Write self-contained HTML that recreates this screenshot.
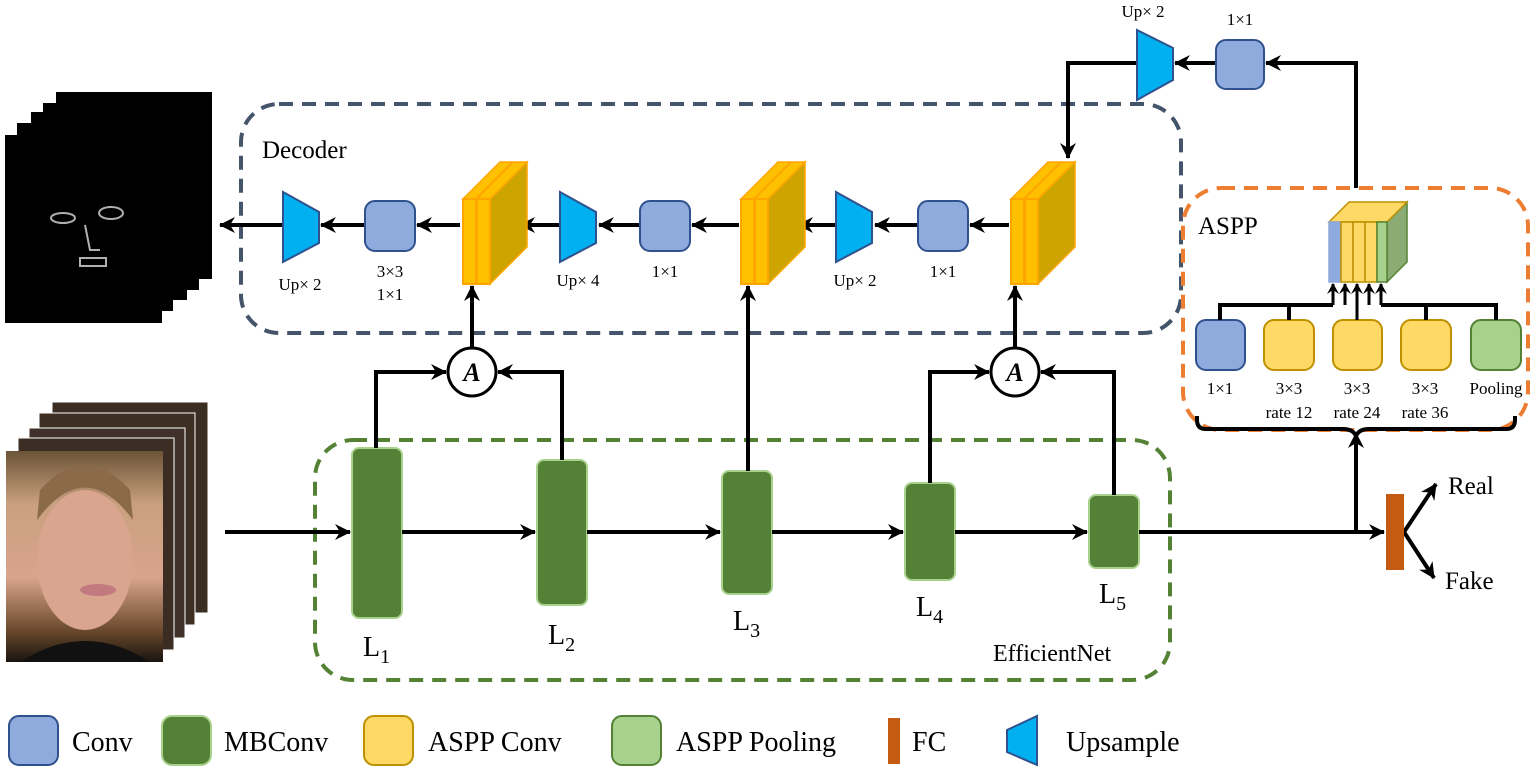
<!DOCTYPE html>
<html><head><meta charset="utf-8"><style>
html,body{margin:0;padding:0;background:#fff;}
svg{display:block;font-family:"Liberation Serif",serif;}
</style></head><body>
<svg width="1540" height="775" viewBox="0 0 1540 775" xmlns="http://www.w3.org/2000/svg">
<defs>
<marker id="ar" markerWidth="18" markerHeight="16" refX="15" refY="8" orient="auto" markerUnits="userSpaceOnUse">
<path d="M0,0 L16,8 L0,16 L5,8 Z" fill="#000"/>
</marker>
<marker id="ars" markerWidth="12" markerHeight="12" refX="10" refY="6" orient="auto" markerUnits="userSpaceOnUse">
<path d="M0,0 L11,6 L0,12 L4,6 Z" fill="#000"/>
</marker>
<linearGradient id="face" x1="0" y1="0" x2="0" y2="1">
<stop offset="0" stop-color="#6b5436"/><stop offset="0.25" stop-color="#c9a07f"/><stop offset="0.6" stop-color="#d9a48c"/><stop offset="0.85" stop-color="#6a4a2c"/><stop offset="1" stop-color="#1a1410"/>
</linearGradient>
</defs>

<!-- black mask stack -->
<g fill="#000">
<rect x="56" y="92" width="156" height="187"/>
<rect x="43" y="103" width="156" height="187"/>
<rect x="31" y="112" width="156" height="188"/>
<rect x="17" y="123" width="156" height="188"/>
<rect x="5" y="135" width="157" height="188"/>
</g>
<g fill="none" stroke="#ddd" stroke-width="2" opacity="0.8">
<ellipse cx="63" cy="218" rx="12" ry="5"/><ellipse cx="111" cy="213" rx="12" ry="6"/>
<path d="M85 225 L90 250 L100 250"/><rect x="80" y="258" width="26" height="8"/>
</g>

<!-- face stack -->
<g stroke="#fff" stroke-width="1">
<rect x="52" y="402" width="156" height="211" fill="#3a2d22"/>
<rect x="39" y="413" width="156" height="212" fill="#3d2f24"/>
<rect x="29" y="428" width="156" height="210" fill="#40312a"/>
<rect x="18" y="438" width="156" height="212" fill="#3b2d24"/>
</g>
<rect x="6" y="451" width="157" height="211" fill="url(#face)"/>
<ellipse cx="85" cy="560" rx="48" ry="70" fill="#d9a58f"/>
<path d="M37 520 Q85 455 133 520 L130 490 Q85 440 40 490 Z" fill="#8a6a48"/>
<path d="M20 662 Q85 620 150 662 Z" fill="#111"/>
<ellipse cx="98" cy="590" rx="18" ry="6" fill="#c27a80"/>

<!-- Decoder box -->
<rect x="241" y="104" width="940" height="229" rx="38" fill="none" stroke="#44546a" stroke-width="4" stroke-dasharray="14 9"/>
<text x="262" y="158" font-size="25">Decoder</text>
<!-- EfficientNet box -->
<rect x="315" y="440" width="855" height="240" rx="38" fill="none" stroke="#548235" stroke-width="4" stroke-dasharray="14 9"/>
<text x="993" y="661" font-size="24">EfficientNet</text>
<!-- ASPP box -->
<rect x="1183" y="188" width="345" height="242" rx="38" fill="none" stroke="#ed7d31" stroke-width="4" stroke-dasharray="14 9"/>
<text x="1198" y="234" font-size="25">ASPP</text>

<!-- MBConv blocks -->
<g fill="#538135" stroke="#a9d18e" stroke-width="2">
<rect x="352" y="448" width="50" height="170" rx="7"/>
<rect x="537" y="460" width="50" height="145" rx="7"/>
<rect x="722" y="471" width="50" height="123" rx="7"/>
<rect x="905" y="483" width="50" height="97" rx="7"/>
<rect x="1089" y="495" width="50" height="73" rx="7"/>
</g>
<g font-size="28">
<text x="363" y="656">L<tspan font-size="20" dy="7">1</tspan></text>
<text x="548" y="644">L<tspan font-size="20" dy="7">2</tspan></text>
<text x="733" y="630">L<tspan font-size="20" dy="7">3</tspan></text>
<text x="916" y="616">L<tspan font-size="20" dy="7">4</tspan></text>
<text x="1099" y="603">L<tspan font-size="20" dy="7">5</tspan></text>
</g>

<!-- main arrows -->
<g stroke="#000" stroke-width="4" fill="none" marker-end="url(#ar)">
<line x1="225" y1="532" x2="350" y2="532"/>
<line x1="402" y1="532" x2="535" y2="532"/>
<line x1="587" y1="532" x2="720" y2="532"/>
<line x1="772" y1="532" x2="903" y2="532"/>
<line x1="955" y1="532" x2="1087" y2="532"/>
<line x1="1139" y1="532" x2="1384" y2="532"/>
<line x1="1356" y1="532" x2="1356" y2="433"/>
<line x1="1404" y1="532" x2="1436" y2="484"/>
<line x1="1404" y1="532" x2="1434" y2="578"/>
<!-- attention -->
<polyline points="376,448 376,372 446,372"/>
<polyline points="562,460 562,372 498,372"/>
<polyline points="930,483 930,372 989,372"/>
<polyline points="1114,495 1114,372 1041,372"/>
<line x1="472" y1="347" x2="472" y2="286"/>
<line x1="748" y1="471" x2="748" y2="286"/>
<line x1="1015" y1="347" x2="1015" y2="286"/>
<!-- decoder arrows -->
<line x1="283" y1="225" x2="220" y2="225"/>
<line x1="365" y1="225" x2="321" y2="225"/>
<line x1="460" y1="225" x2="417" y2="225"/>
<line x1="560" y1="225" x2="520" y2="225"/>
<line x1="640" y1="225" x2="599" y2="225"/>
<line x1="739" y1="225" x2="692" y2="225"/>
<line x1="836" y1="225" x2="798" y2="225"/>
<line x1="918" y1="225" x2="875" y2="225"/>
<line x1="1009" y1="225" x2="970" y2="225"/>
<!-- top path -->
<polyline points="1356,188 1356,63 1266,63"/>
<line x1="1216" y1="63" x2="1175" y2="63"/>
<polyline points="1137,63 1068,63 1068,158"/>
</g>
<!-- circles -->
<g fill="#fff" stroke="#000" stroke-width="3">
<circle cx="472" cy="372" r="24"/><circle cx="1015" cy="372" r="24"/>
</g>
<g font-size="26" font-style="italic" font-weight="bold" text-anchor="middle">
<text x="472" y="381">A</text><text x="1015" y="381">A</text>
</g>

<!-- FC -->
<rect x="1386" y="494" width="18" height="76" fill="#c55a11"/>
<text x="1448" y="494" font-size="25">Real</text>
<text x="1445" y="589" font-size="25">Fake</text>

<!-- yellow 3D blocks -->
<g id="yb">
<polygon points="490,199 527,162 527,247 490,284" fill="#cda400" stroke="#ffa500" stroke-width="1.5"/>
<polygon points="463,199 500,162 527,162 490,199" fill="#ffc000" stroke="#ffa500" stroke-width="1.5"/>
<line x1="476" y1="199" x2="513" y2="162" stroke="#ffa500" stroke-width="2"/>
<rect x="463" y="199" width="13" height="85" fill="#ffc000" stroke="#ffa500" stroke-width="2"/>
<rect x="477" y="199" width="13" height="85" fill="#ffc000" stroke="#ffa500" stroke-width="2"/>
</g>
<use href="#yb" x="278"/>
<use href="#yb" x="548"/>

<!-- conv boxes -->
<g fill="#8faadc" stroke="#2f528f" stroke-width="2">
<rect x="365" y="201" width="50" height="50" rx="10"/>
<rect x="640" y="201" width="50" height="50" rx="10"/>
<rect x="918" y="201" width="50" height="50" rx="10"/>
<rect x="1216" y="40" width="48" height="49" rx="10"/>
<rect x="1196" y="320" width="49" height="50" rx="10"/>
</g>
<!-- upsample -->
<g fill="#00b0f0" stroke="#2f528f" stroke-width="2">
<polygon points="283,192 319,212 319,243 283,262"/>
<polygon points="560,192 596,212 596,243 560,262"/>
<polygon points="836,192 872,212 872,243 836,262"/>
<polygon points="1137,30 1173,48 1173,80 1137,100"/>
</g>
<g font-size="17" text-anchor="middle">
<text x="300" y="290">Up× 2</text>
<text x="390" y="277">3×3</text><text x="390" y="300">1×1</text>
<text x="578" y="286">Up× 4</text>
<text x="665" y="277">1×1</text>
<text x="855" y="286">Up× 2</text>
<text x="943" y="277">1×1</text>
<text x="1143" y="17">Up× 2</text>
<text x="1240" y="25">1×1</text>
</g>

<!-- ASPP internals -->
<g stroke-width="1.5">
<polygon points="1387,222 1407,202 1407,262 1387,282" fill="#8aab73" stroke="#548235"/>
<polygon points="1329,222 1349,202 1407,202 1387,222" fill="#ffd966" stroke="#bf9000"/>
<rect x="1329" y="222" width="12" height="60" fill="#8faadc" stroke="#8faadc"/>
<rect x="1341" y="222" width="12" height="60" fill="#ffd966" stroke="#bf9000"/>
<rect x="1353" y="222" width="12" height="60" fill="#ffd966" stroke="#bf9000"/>
<rect x="1365" y="222" width="12" height="60" fill="#ffd966" stroke="#bf9000"/>
<rect x="1377" y="222" width="10" height="60" fill="#a9d18e" stroke="#548235"/>
</g>
<g fill="#ffd966" stroke="#bf9000" stroke-width="2">
<rect x="1264" y="320" width="50" height="50" rx="10"/>
<rect x="1333" y="320" width="49" height="50" rx="10"/>
<rect x="1401" y="320" width="50" height="50" rx="10"/>
</g>
<rect x="1471" y="320" width="50" height="50" rx="10" fill="#a9d18e" stroke="#548235" stroke-width="2"/>
<g stroke="#000" stroke-width="4" fill="none">
<polyline points="1220,320 1220,305 1333,305"/>
<polyline points="1289,320 1289,305"/>
<polyline points="1426,320 1426,305"/>
<polyline points="1496,320 1496,305 1381,305"/>
<path d="M1197,416 v4 q0,9 9,9 h137 q10,0 13,7 q3,-7 13,-7 h137 q9,0 9,-9 v-4"/>
</g>
<g stroke="#000" stroke-width="3" fill="none" marker-end="url(#ars)">
<line x1="1333" y1="305" x2="1333" y2="284"/>
<line x1="1345" y1="305" x2="1345" y2="284"/>
<line x1="1357" y1="320" x2="1357" y2="284"/>
<line x1="1369" y1="305" x2="1369" y2="284"/>
<line x1="1381" y1="305" x2="1381" y2="284"/>
</g>
<g font-size="17" text-anchor="middle">
<text x="1220" y="394">1×1</text>
<text x="1289" y="394">3×3</text><text x="1289" y="418">rate 12</text>
<text x="1357" y="394">3×3</text><text x="1357" y="418">rate 24</text>
<text x="1425" y="394">3×3</text><text x="1425" y="418">rate 36</text>
<text x="1496" y="394">Pooling</text>
</g>

<!-- legend -->
<rect x="9" y="716" width="49" height="49" rx="10" fill="#8faadc" stroke="#2f528f" stroke-width="2"/>
<text x="72" y="751" font-size="28">Conv</text>
<rect x="162" y="716" width="49" height="49" rx="10" fill="#538135" stroke="#a9d18e" stroke-width="2"/>
<text x="224" y="751" font-size="28">MBConv</text>
<rect x="364" y="716" width="49" height="49" rx="10" fill="#ffd966" stroke="#bf9000" stroke-width="2"/>
<text x="428" y="751" font-size="28">ASPP Conv</text>
<rect x="612" y="716" width="49" height="49" rx="10" fill="#a9d18e" stroke="#548235" stroke-width="2"/>
<text x="676" y="751" font-size="28">ASPP Pooling</text>
<rect x="888" y="718" width="12" height="46" fill="#c55a11"/>
<text x="912" y="751" font-size="28">FC</text>
<polygon points="1007,730 1037,716 1037,765 1007,752" fill="#00b0f0" stroke="#2f528f" stroke-width="2"/>
<text x="1066" y="751" font-size="28">Upsample</text>
</svg>
</body></html>
